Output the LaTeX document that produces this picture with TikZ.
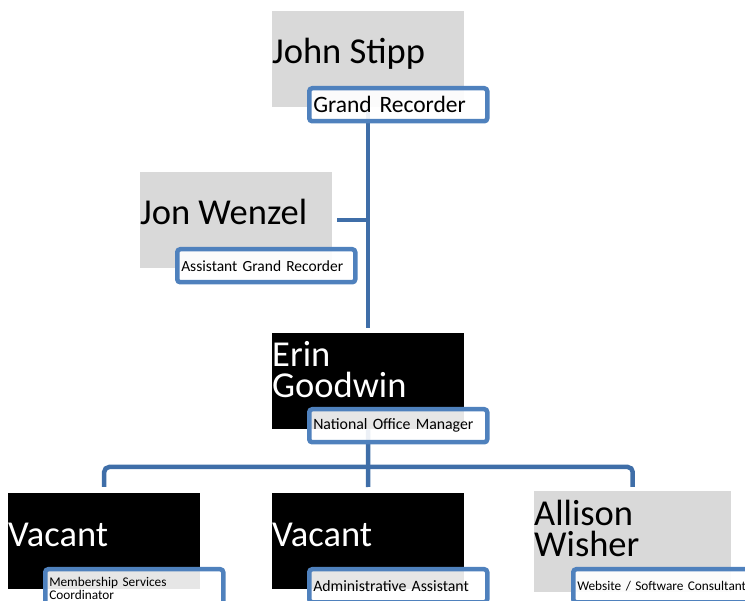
\documentclass[tikz,border=0pt]{standalone}
\usepackage{fontspec}
\setmainfont{Carlito}

\definecolor{namegray}{HTML}{D9D9D9}
\definecolor{titleblue}{HTML}{4F81BD}
\definecolor{linkblue}{HTML}{3F6EA8}

\tikzset{
  namebox/.style={fill=namegray, minimum width=192pt, minimum height=96pt,
    anchor=north west, inner sep=0pt},
  titlebox/.style={draw=titleblue, line width=4.5pt, rounded corners=3pt,
    fill=white, fill opacity=0.9, text opacity=1, minimum width=178pt,
    minimum height=33pt, anchor=north west, inner xsep=4pt, inner ysep=0pt,
    text width=170pt, align=left},
  bigname/.style={font=\fontsize{36.5}{31.5}\selectfont, anchor=base west,
    inner sep=0pt, align=left},
  link/.style={draw=linkblue, line width=4.5pt}
}

\begin{document}
\begin{tikzpicture}[x=1pt,y=-1pt]
\useasboundingbox (0,0) rectangle (745,601);

% boxes
\node[namebox] (stipp) at (272,11) {};
\node[namebox] (wenzel) at (140,172) {};
\node[namebox, fill=black] (goodwin) at (272,333) {};
\node[namebox, fill=black] (vacA) at (8,493) {};
\node[namebox, fill=black] (vacB) at (272,493) {};
\node[namebox, minimum width=197pt, minimum height=101pt] (wisher) at (534,491) {};

% connectors
\coordinate (bus) at (368,467);
\draw[link] (stipp.south) -- ([yshift=5pt]goodwin.north);
\draw[link] ([xshift=5pt]wenzel.east) -- (wenzel.east -| stipp.south);
\draw[link] (goodwin.south) -- (bus) -- ([yshift=6pt]vacB.north);
\draw[link, rounded corners=5pt] ([yshift=6pt]vacA.north) |- (bus) -| ([yshift=4pt]wisher.north);

% names (base = last line)
\node[bigname] (stippName) at (272,64) {John Stipp};
\node[bigname] (wenzelName) at (140,225) {Jon Wenzel};
\node[bigname, text=white] (goodwinName) at (272,398) {Erin\\Goodwin};
\node[bigname, text=white] (vacAName) at (8,547) {Vacant};
\node[bigname, text=white] (vacBName) at (272,547) {Vacant};
\node[bigname] (wisherName) at (534,557) {Allison\\Wisher};

% titles
\node[titlebox, font=\fontsize{23.5}{28}\selectfont] (stippTitle) at (307,86) {Grand Recorder};
\node[titlebox, font=\fontsize{15.5}{18}\selectfont] (wenzelTitle) at (175,247) {Assistant Grand Recorder};
\node[titlebox, font=\fontsize{15.8}{18}\selectfont] (goodwinTitle) at (307,407) {National Office Manager};
\node[titlebox, minimum height=39pt, font=\fontsize{13.3}{13}\selectfont] (vacATitle) at (43,567) {Membership Services\\Coordinator};
\node[titlebox, font=\fontsize{15.8}{18}\selectfont] (vacBTitle) at (307,567) {Administrative Assistant};
\node[titlebox, font=\fontsize{13.3}{16}\selectfont] (wisherTitle) at (571,567) {Website / Software Consultant};
\end{tikzpicture}
\end{document}
